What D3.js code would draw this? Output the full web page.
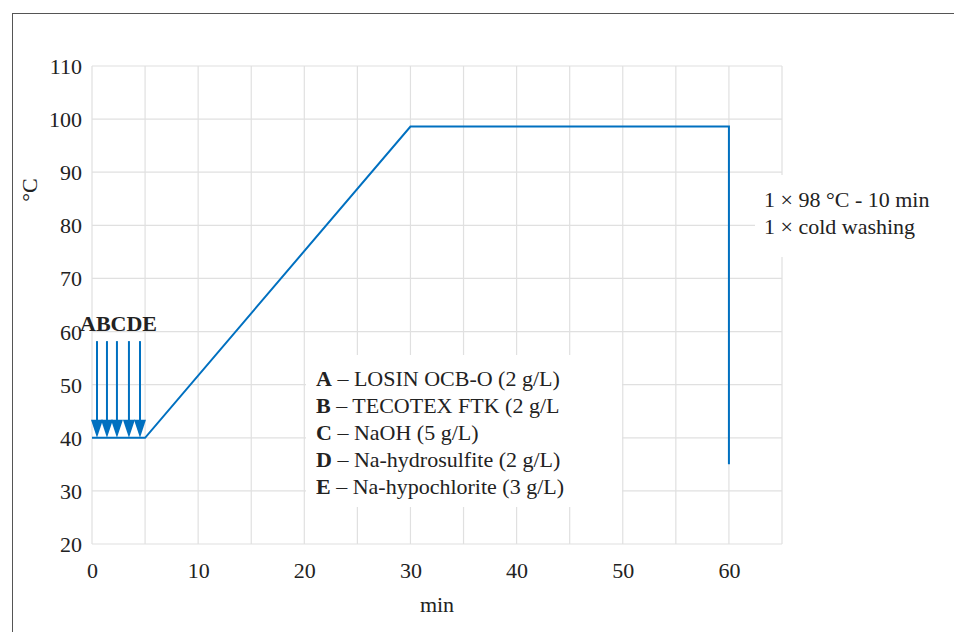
<!DOCTYPE html>
<html lang="en">
<head>
<meta charset="utf-8">
<title>Dyeing profile</title>
<script src="https://d3js.org/d3.v7.min.js"></script>
<style>
  body { margin: 0; background: #fff; }
  svg text { font-family: "Liberation Serif", "Times New Roman", serif !important; font-size: 22px; fill: #222; }
</style>
</head>
<body>
<svg id="chart" width="954" height="632"></svg>
<script>
// profile: time (min) vs temperature (°C)
var profileTime = [0, 5, 30, 60, 60];
var profileTemp = [40, 40, 98.6, 98.6, 35];

// chemical dosing arrows
var arrowTime = [0.47, 1.41, 2.35, 3.48, 4.52];
var arrowTop = 58.2, arrowBottom = 40;

var xTicks = [0, 10, 20, 30, 40, 50, 60];
var yTicks = [20, 30, 40, 50, 60, 70, 80, 90, 100, 110];

var legendKeys = ["A", "B", "C", "D", "E"];
var legendTexts = [" – LOSIN OCB-O (2 g/L)", " – TECOTEX FTK (2 g/L", " – NaOH (5 g/L)",
                   " – Na-hydrosulfite (2 g/L)", " – Na-hypochlorite (3 g/L)"];
var noteLines = ["1 × 98 °C - 10 min", "1 × cold washing"];

var svg = d3.select("#chart");
var blue = "#0070c0";

// outer frame
svg.append("rect").attr("x", 12.5).attr("y", 13.5).attr("width", 960).attr("height", 640)
  .attr("fill", "none").attr("stroke", "#555").attr("stroke-width", 1);

var x = d3.scaleLinear().domain([0, 65]).range([92, 782]);
var y = d3.scaleLinear().domain([20, 110]).range([544, 66]);

// grid
var g = svg.append("g");
g.selectAll(".vg").data(d3.range(0, 66, 5)).enter().append("line")
  .attr("x1", d => x(d)).attr("x2", d => x(d)).attr("y1", y(20)).attr("y2", y(110))
  .attr("stroke", "#e0e0e0").attr("stroke-width", 1.2);
g.selectAll(".hg").data(yTicks).enter().append("line")
  .attr("x1", x(0)).attr("x2", x(65)).attr("y1", d => y(d)).attr("y2", d => y(d))
  .attr("stroke", "#e0e0e0").attr("stroke-width", 1.2);

// white boxes behind annotations
svg.append("rect").attr("x", 306).attr("y", 355).attr("width", 316).attr("height", 152).attr("fill", "#fff");
svg.append("rect").attr("x", 755).attr("y", 175).attr("width", 160).attr("height", 82).attr("fill", "#fff");

// axes
var xAxis = svg.append("g").attr("transform", "translate(0," + y(20) + ")")
  .call(d3.axisBottom(x).tickValues(xTicks).tickSize(0).tickPadding(18));
xAxis.select(".domain").remove();

var yAxis = svg.append("g").attr("transform", "translate(" + x(0) + ",0)")
  .call(d3.axisLeft(y).tickValues(yTicks).tickSize(0).tickPadding(10));
yAxis.select(".domain").remove();
yAxis.selectAll("text").attr("dy", "0.34em");

svg.append("text").attr("x", 437).attr("y", 612).attr("text-anchor", "middle").text("min");
svg.append("text").attr("transform", "translate(37,190) rotate(-90)").attr("text-anchor", "middle").text("°C");

// profile line
var line = d3.line().x(d => x(d[0])).y(d => y(d[1]));
svg.append("path").datum(d3.zip(profileTime, profileTemp))
  .attr("d", line).attr("fill", "none").attr("stroke", blue).attr("stroke-width", 2);

// arrows
var ag = svg.selectAll(".arrow").data(arrowTime).enter().append("g");
ag.append("line")
  .attr("x1", d => x(d)).attr("x2", d => x(d))
  .attr("y1", y(arrowTop)).attr("y2", y(arrowBottom) - 14)
  .attr("stroke", blue).attr("stroke-width", 2);
ag.append("path")
  .attr("d", d => {
    var cx = x(d), yb = y(arrowBottom);
    return "M" + (cx - 6) + "," + (yb - 18) + "L" + (cx + 6) + "," + (yb - 18) + "L" + cx + "," + yb + "Z";
  })
  .attr("fill", blue);

svg.append("text").attr("x", 80).attr("y", 331).style("font-weight", "bold").text("ABCDE");

// legend
var lg = svg.append("g");
legendKeys.forEach(function (k, i) {
  var t = lg.append("text").attr("x", 316).attr("y", 386 + i * 27);
  t.append("tspan").style("font-weight", "bold").text(k);
  t.append("tspan").text(legendTexts[i]);
});

// note
noteLines.forEach(function (s, i) {
  svg.append("text").attr("x", 764).attr("y", 207 + i * 27).text(s);
});
</script>
</body>
</html>
